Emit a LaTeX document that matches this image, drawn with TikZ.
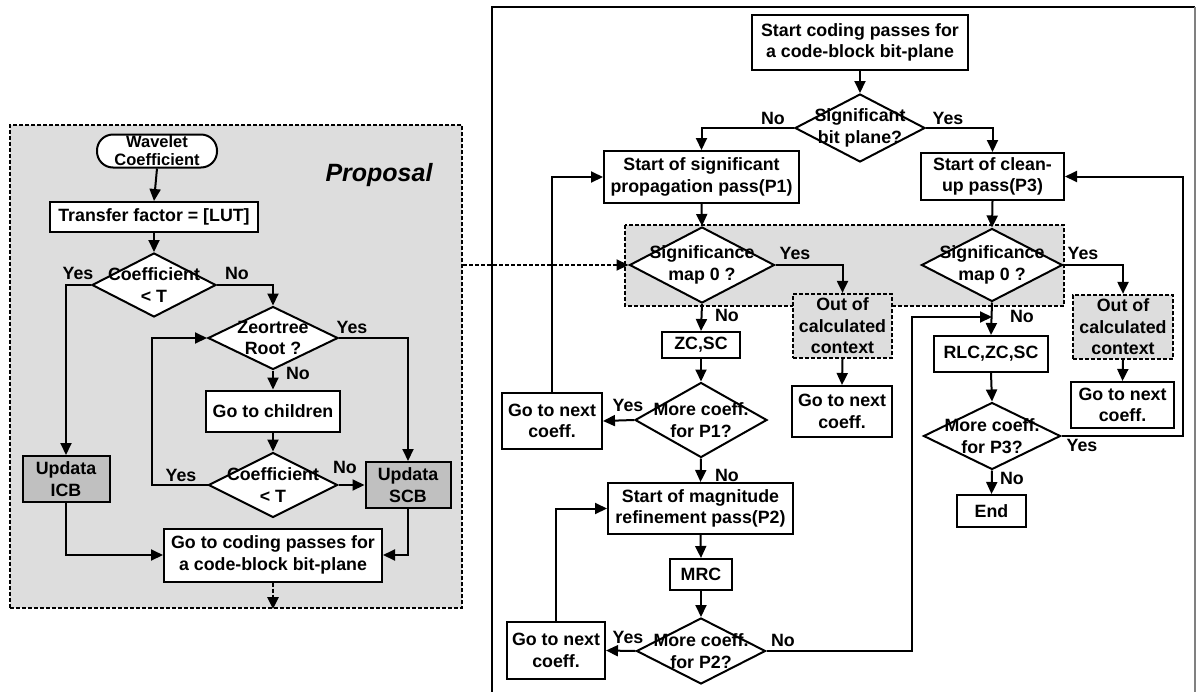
\documentclass[tikz,border=0pt]{standalone}
\usepackage{fontspec}
\setmainfont{Liberation Sans}
\usetikzlibrary{shapes.geometric,arrows.meta}
\definecolor{pgray}{HTML}{DDDDDD}
\definecolor{dgray}{HTML}{C0C0C0}
\newcommand\ff{\fontsize{17.8}{21.5}\selectfont\bfseries}
\tikzset{
  box/.style={draw, fill=white, line width=2pt, align=center, inner sep=0pt, font=\ff},
  gbox/.style={box, fill=dgray},
  dbox/.style={box, fill=pgray, line width=2.2pt, dash pattern=on 4pt off 2pt},
  dia/.style={draw, fill=white, diamond, line width=2pt, inner sep=0pt},
  dtxt/.style={align=center, inner sep=0pt, font=\ff},
  lbl/.style={inner sep=0pt, font=\ff},
  arr/.style={line width=2pt, -{Triangle[length=12pt,width=11pt]}},
  darr/.style={line width=2.2pt, dash pattern=on 4pt off 2pt, -{Triangle[length=12pt,width=11pt]}},
}
\begin{document}
\begin{tikzpicture}[x=1pt,y=-1pt]
\useasboundingbox (0,0) rectangle (1197,691);
% ---------------- Left panel ----------------
\node[draw, fill=pgray, line width=2.2pt, dash pattern=on 4pt off 2pt, minimum width=452pt, minimum height=483pt, inner sep=0pt] (pl) at (236,366.5) {};
\node[inner sep=0pt, font=\fontsize{25}{28}\selectfont\bfseries\itshape] (prop) at (379,175) {Proposal};

\node[box, rounded corners=16pt, minimum width=120pt, minimum height=33pt, font=\fontsize{16.5}{18}\selectfont\bfseries] (wc) at (157,151) {Wavelet\\Coefficient};
\node[box, minimum width=208pt, minimum height=30pt] (tf) at (154,217) {Transfer factor = [LUT]};
\node[dia, minimum width=124pt, minimum height=64pt] (d1) at (154,285) {};
\node[dtxt] (d1t) at (d1) {Coefficient\\< T};
\node[dia, minimum width=130pt, minimum height=63pt] (d2) at (273,338) {};
\node[dtxt] (d2t) at (d2) {Zeortree\\Root ?};
\node[box, minimum width=134pt, minimum height=41pt] (gch) at (273,411) {Go to children};
\node[dia, minimum width=129pt, minimum height=65pt] (d3) at (273,485) {};
\node[dtxt] (d3t) at (d3) {Coefficient\\< T};
\node[gbox, minimum width=87pt, minimum height=46pt] (icb) at (66,479) {Updata\\ICB};
\node[gbox, minimum width=85pt, minimum height=46pt] (scb) at (408,485) {Updata\\SCB};
\node[box, minimum width=218pt, minimum height=53pt] (gc) at (273,555) {Go to coding passes for\\a code-block bit-plane};

\draw[arr] (wc.south) -- (tf.north);
\draw[arr] (tf.south) -- (d1.north);
\draw[arr] (d1.west) -| (icb.north);
\draw[arr] (d1.east) -| (d2.north);
\draw[arr] (d2.east) -| (scb.north);
\draw[arr] (d2.south) -- (gch.north);
\draw[arr] (gch.south) -- (d3.north);
\draw[arr] (d3.east) -- (scb.west);
\draw[arr] (d3.west) -- ++(-56,0) |- (d2.west);
\draw[arr] (icb.south) |- (gc.west);
\draw[arr] (scb.south) |- (gc.east);
\draw[darr] (gc.south) -- (gc.south |- pl.south);

\node[lbl] (l1) at (78,273) {Yes};
\node[lbl] (l2) at (237,273) {No};
\node[lbl] (l3) at (352,327) {Yes};
\node[lbl] (l4) at (298,373) {No};
\node[lbl] (l5) at (181,475) {Yes};
\node[lbl] (l6) at (345,467) {No};

% ---------------- Right panel ----------------
\draw[line width=1.3pt] (492,700) -- (492,7) -- (1195,7);
\draw[line width=1.3pt, gray] (1195,7) -- (1195,700);

\fill[pgray] (625,225) rectangle (1064,306);
\draw[line width=2.2pt, dash pattern=on 4pt off 2pt] (625,225) rectangle (1064,306);

\node[box, minimum width=216pt, minimum height=55pt] (st) at (860,42.5) {Start coding passes for\\a code-block bit-plane};
\node[dia, minimum width=130pt, minimum height=68pt] (d4) at (860,128) {};
\node[dtxt] (d4t) at (d4) {Significant\\bit plane?};
\node[box, minimum width=195pt, minimum height=52pt] (p1) at (701.5,177) {Start of significant\\propagation pass(P1)};
\node[box, minimum width=143pt, minimum height=47pt] (p3) at (992.5,176.5) {Start of clean-\\up pass(P3)};

\node[dia, minimum width=145pt, minimum height=76pt] (sm1) at (702,265) {};
\node[dtxt] (sm1t) at (sm1) {Significance\\map 0 ?};
\node[dia, minimum width=141pt, minimum height=73pt] (sm2) at (992,265) {};
\node[dtxt] (sm2t) at (sm2) {Significance\\map 0 ?};
\node[dbox, minimum width=99pt, minimum height=64pt] (ooc1) at (842.5,326) {Out of\\calculated\\context};
\node[dbox, minimum width=100pt, minimum height=64pt] (ooc2) at (1123,327) {Out of\\calculated\\context};
\node[box, minimum width=100pt, minimum height=51pt] (gnc2) at (842,411.5) {Go to next\\coeff.};
\node[box, minimum width=103pt, minimum height=46pt] (gncr) at (1122.5,405) {Go to next\\coeff.};

\node[box, minimum width=78pt, minimum height=26pt] (zcsc) at (701,345) {ZC,SC};
\node[dia, minimum width=132pt, minimum height=75pt] (d5) at (701,420) {};
\node[dtxt] (d5t) at (d5) {More coeff.\\for P1?};
\node[box, minimum width=100pt, minimum height=56pt] (gnc1) at (552,421) {Go to next\\coeff.};
\node[box, minimum width=185pt, minimum height=51pt] (p2) at (700.5,508.5) {Start of magnitude\\refinement pass(P2)};
\node[box, minimum width=62pt, minimum height=31pt] (mrc) at (701,574.5) {MRC};
\node[dia, minimum width=129pt, minimum height=66pt] (d6) at (701,651) {};
\node[dtxt] (d6t) at (d6) {More coeff.\\for P2?};
\node[box, minimum width=98pt, minimum height=57pt] (gnc3) at (556,650.5) {Go to next\\coeff.};

\node[box, minimum width=114pt, minimum height=36pt] (rlc) at (991,354) {RLC,ZC,SC};
\node[dia, minimum width=137pt, minimum height=67pt] (d7) at (992,436) {};
\node[dtxt] (d7t) at (d7) {More coeff.\\for P3?};
\node[box, minimum width=69pt, minimum height=32pt] (endb) at (991.5,511) {End};

\coordinate (cross) at (pl.east |- sm1.west);
\coordinate (jn) at (912,317);
\coordinate (yr) at (1183,436);

\draw[darr] (cross) -- (sm1.west);
\draw[arr] (st.south) -- (d4.north);
\draw[arr] (d4.west) -| (p1.north);
\draw[arr] (d4.east) -| (p3.north);
\draw[arr] (p1.south) -- (sm1.north);
\draw[arr] (p3.south) -- (sm2.north);
\draw[arr] (sm1.east) -| (ooc1.north);
\draw[arr] (sm2.east) -| (ooc2.north);
\draw[arr] (ooc1.south) -- (gnc2.north);
\draw[arr] (ooc2.south) -- (gncr.north);
\draw[arr] (sm1.south) -- (zcsc.north);
\draw[arr] (zcsc.south) -- (d5.north);
\draw[arr] (d5.west) -- (gnc1.east);
\draw[arr] (gnc1.north) |- (p1.west);
\draw[arr] (d5.south) -- (p2.north);
\draw[arr] (p2.south) -- (mrc.north);
\draw[arr] (mrc.south) -- (d6.north);
\draw[arr] (d6.west) -- (gnc3.east);
\draw[arr] (gnc3.north) |- (p2.west);
\draw[arr] (d6.east) -| (jn) -- (sm2.south |- jn);
\draw[arr] (sm2.south) -- (rlc.north);
\draw[arr] (rlc.south) -- (d7.north);
\draw[arr] (d7.south) -- (endb.north);
\draw[arr] (d7.east) -- (yr) |- (p3.east);

\node[lbl] (r1) at (773,118) {No};
\node[lbl] (r2) at (948,118) {Yes};
\node[lbl] (r3) at (795,253) {Yes};
\node[lbl] (r4) at (1083,253) {Yes};
\node[lbl] (r5) at (727,315) {No};
\node[lbl] (r6) at (1022,316) {No};
\node[lbl] (r7) at (628,405) {Yes};
\node[lbl] (r8) at (727,475) {No};
\node[lbl] (r9) at (628,637) {Yes};
\node[lbl] (r10) at (783,640) {No};
\node[lbl] (r11) at (1082,445) {Yes};
\node[lbl] (r12) at (1012,478) {No};
\end{tikzpicture}
\end{document}
